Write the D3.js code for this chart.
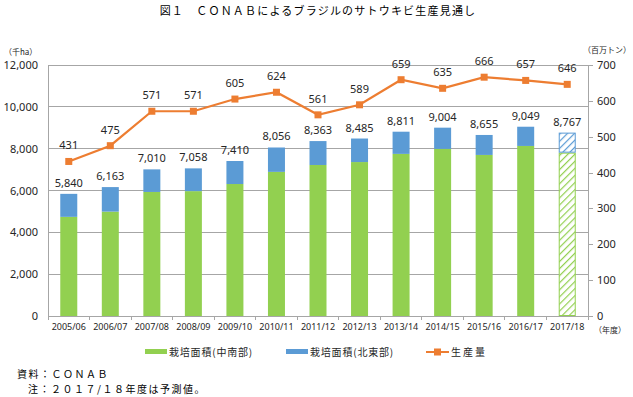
<!DOCTYPE html>
<html><head><meta charset="utf-8">
<script src="https://cdn.jsdelivr.net/npm/d3@7"></script>
<style>
body{margin:0;background:#fff;}
svg{display:block;font-family:"Noto Sans CJK JP","Noto Sans",sans-serif;}
</style></head><body>
<svg id="c" width="633" height="397"></svg>
<script>
const categories = ["2005/06","2006/07","2007/08","2008/09","2009/10","2010/11","2011/12","2012/13","2013/14","2014/15","2015/16","2016/17","2017/18"];
const areaCenterSouth = [4740,4990,5930,5970,6310,6890,7220,7360,7750,7990,7700,8130,7810];
const areaTotal = [5840,6163,7010,7058,7410,8056,8363,8485,8811,9004,8655,9049,8767];
const production = [431,475,571,571,605,624,561,589,659,635,666,657,646];
const leftTicks = [0,2000,4000,6000,8000,10000,12000];
const rightTicks = [0,100,200,300,400,500,600,700];
const forecastIndex = 12;

const green="#92D050", blue="#5B9BD5", orange="#ED7D31", grid="#A6A6A6", txt="#262626";
const svg = d3.select("#c");
const L=48, R=588, T=65, B=316;

const defs = svg.append("defs");
function hatch(id,color){
  const p = defs.append("pattern").attr("id",id).attr("patternUnits","userSpaceOnUse")
    .attr("width",5).attr("height",5).attr("patternTransform","rotate(45)");
  p.append("rect").attr("width",5).attr("height",5).attr("fill","#fff");
  p.append("line").attr("x1",0).attr("y1",0).attr("x2",0).attr("y2",5).attr("stroke",color).attr("stroke-width",2.4);
}
hatch("hg",green); hatch("hb",blue);

const x = d3.scaleBand().domain(categories).range([L,R]).paddingInner(0).paddingOuter(0);
const yL = d3.scaleLinear().domain([0,12000]).range([B,T]);
const yR = d3.scaleLinear().domain([0,700]).range([B,T]);

// title
svg.append("text").attr("x",318).attr("y",15).attr("text-anchor","middle")
  .attr("font-size",11).attr("letter-spacing",1.2).attr("fill","#000")
  .text("図１　ＣＯＮＡＢによるブラジルのサトウキビ生産見通し");

// gridlines
svg.append("g").selectAll("line").data(leftTicks.filter(d=>d>0)).join("line")
  .attr("x1",L).attr("x2",R).attr("y1",d=>yL(d)).attr("y2",d=>yL(d))
  .attr("stroke",grid).attr("stroke-width",1).attr("shape-rendering","crispEdges");

// left axis
const gl = svg.append("g").attr("transform",`translate(${L},0)`)
  .call(d3.axisLeft(yL).tickValues(leftTicks).tickSize(0).tickPadding(10).tickFormat(d3.format(",")));
gl.select(".domain").attr("stroke",grid).attr("shape-rendering","crispEdges");
gl.selectAll("text").attr("font-size",11).attr("fill",txt).attr("font-family","'Noto Sans',sans-serif");

// right axis
const gr = svg.append("g").attr("transform",`translate(${R},0)`)
  .call(d3.axisRight(yR).tickValues(rightTicks).tickSize(5).tickPadding(4));
gr.select(".domain").attr("stroke",grid).attr("shape-rendering","crispEdges");
gr.selectAll("line").attr("stroke",grid).attr("shape-rendering","crispEdges");
gr.selectAll("text").attr("font-size",11).attr("fill",txt).attr("font-family","'Noto Sans',sans-serif");

// bottom axis
const gb = svg.append("g").attr("transform",`translate(0,${B})`)
  .call(d3.axisBottom(x).tickSize(0).tickPadding(8));
gb.select(".domain").attr("stroke",grid).attr("shape-rendering","crispEdges");
gb.selectAll("text").attr("font-size",9).attr("fill",txt).attr("font-family","'Noto Sans',sans-serif");
svg.append("g").selectAll("line").data(categories.concat([null])).join("line")
  .attr("x1",(d,i)=>L+i*x.bandwidth()).attr("x2",(d,i)=>L+i*x.bandwidth())
  .attr("y1",B).attr("y2",B+4).attr("stroke",grid).attr("shape-rendering","crispEdges");

// bars
const bw = 17;
const bars = svg.append("g");
categories.forEach((c,i)=>{
  const cx = x(c)+x.bandwidth()/2;
  const fc = i===forecastIndex;
  const inset = fc?0.5:0;
  bars.append("rect").attr("x",cx-bw/2+inset).attr("width",bw-2*inset)
    .attr("y",yL(areaCenterSouth[i])+inset).attr("height",yL(0)-yL(areaCenterSouth[i])-2*inset)
    .attr("fill",fc?"url(#hg)":green).attr("stroke",fc?green:"none").attr("stroke-width",fc?1:0);
  bars.append("rect").attr("x",cx-bw/2+inset).attr("width",bw-2*inset)
    .attr("y",yL(areaTotal[i])+inset).attr("height",yL(areaCenterSouth[i])-yL(areaTotal[i])-2*inset)
    .attr("fill",fc?"url(#hb)":blue).attr("stroke",fc?blue:"none").attr("stroke-width",fc?1:0);
  bars.append("text").attr("x",cx).attr("y",yL(areaTotal[i])-7).attr("text-anchor","middle")
    .attr("font-size",11).attr("fill",txt).attr("font-family","'Noto Sans',sans-serif")
    .text(d3.format(",")(areaTotal[i]));
});

// line
const line = d3.line().x((d,i)=>x(categories[i])+x.bandwidth()/2).y(d=>yR(d));
svg.append("path").datum(production).attr("d",line).attr("fill","none")
  .attr("stroke",orange).attr("stroke-width",2.2);
svg.append("g").selectAll("rect").data(production).join("rect")
  .attr("x",(d,i)=>x(categories[i])+x.bandwidth()/2-3.5).attr("y",d=>yR(d)-3.5)
  .attr("width",7).attr("height",7).attr("fill",orange);
svg.append("g").selectAll("text").data(production).join("text")
  .attr("x",(d,i)=>x(categories[i])+x.bandwidth()/2).attr("y",d=>yR(d)-12)
  .attr("text-anchor","middle").attr("font-size",11).attr("fill",txt)
  .attr("font-family","'Noto Sans',sans-serif").text(d=>d);

// unit labels
svg.append("text").attr("x",4).attr("y",55).attr("font-size",8).attr("fill",txt).text("（千ha）");
svg.append("text").attr("x",583).attr("y",53).attr("font-size",8).attr("fill",txt).text("（百万トン）");
svg.append("text").attr("x",594).attr("y",333).attr("font-size",8).attr("fill",txt).text("（年度）");

// legend
const lg = svg.append("g").attr("font-size",10).attr("fill",txt).attr("letter-spacing",0.8);
lg.append("rect").attr("x",145).attr("y",349).attr("width",22).attr("height",5).attr("fill",green);
lg.append("text").attr("x",169).attr("y",356).text("栽培面積(中南部)");
lg.append("rect").attr("x",286).attr("y",349).attr("width",22).attr("height",5).attr("fill",blue);
lg.append("text").attr("x",310).attr("y",356).text("栽培面積(北東部)");
lg.append("line").attr("x1",426).attr("x2",449).attr("y1",352).attr("y2",352).attr("stroke",orange).attr("stroke-width",2);
lg.append("rect").attr("x",434).attr("y",348.5).attr("width",7).attr("height",7).attr("fill",orange);
lg.append("text").attr("x",451).attr("y",356).attr("letter-spacing",2).text("生産量");

// notes
svg.append("text").attr("x",17).attr("y",378).attr("font-size",10).attr("fill","#000")
  .attr("letter-spacing",1.5).text("資料：ＣＯＮＡＢ");
svg.append("text").attr("x",28).attr("y",393).attr("font-size",10).attr("fill","#000")
  .attr("letter-spacing",1.5).text("注：２０１７/１８年度は予測値。");
</script></body></html>
